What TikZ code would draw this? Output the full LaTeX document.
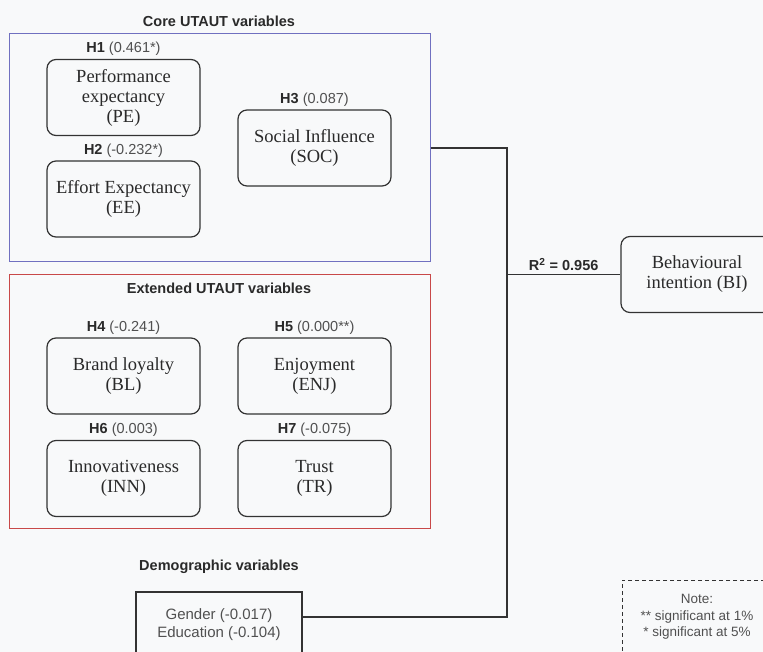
\documentclass[tikz,border=0pt]{standalone}
\usepackage{fontspec}
\setmainfont{Liberation Serif}
\setsansfont{Liberation Sans}
\usepackage{tikz}
\definecolor{bg}{HTML}{F8F9FA}
\definecolor{edge}{HTML}{333333}
\definecolor{txt}{HTML}{2A2A2A}
\definecolor{val}{HTML}{505050}
\definecolor{corec}{HTML}{7070C0}
\definecolor{extc}{HTML}{C84848}
\tikzset{
  var/.style={draw=edge,line width=1.2pt,rounded corners=9pt,minimum width=153pt,minimum height=76pt,inner sep=2pt,align=center,text=txt,font=\fontsize{18.5}{20}\selectfont},
  hyp/.style={text=val,inner sep=3pt,font=\sffamily\fontsize{14.5}{17}\selectfont},
  grp/.style={text=txt,font=\sffamily\bfseries\fontsize{14.5}{17}\selectfont},
  frame/.style={line width=1pt,minimum width=421pt},
  link/.style={draw=edge,line width=1.2pt}
}
\begin{document}
\begin{tikzpicture}[x=1pt,y=-1pt]
\fill[bg] (0,0) rectangle (763,652);
\useasboundingbox (0,0) rectangle (763,652);
\clip (0,0) rectangle (763,652);
\node[grp] (coret) at (219,21) {Core UTAUT variables};
\node[frame,draw=corec,minimum height=228pt] (core) at (219.5,148) {};
\node[frame,draw=extc,minimum height=253pt] (ext) at (219.5,401.5) {};
\node[grp] (extt) at (219,288) {Extended UTAUT variables};
\foreach \nm/\x/\y/\h/\v/\t in {pe/123.5/97.5/H1/0.461*/{Performance\\expectancy\\(PE)},
  ee/123.5/199/H2/-0.232*/{Effort Expectancy\\(EE)},
  soc/314.5/148/H3/0.087/{Social Influence\\(SOC)},
  bl/123.5/376/H4/-0.241/{Brand loyalty\\(BL)},
  enj/314.5/376/H5/0.000**/{Enjoyment\\(ENJ)},
  inn/123.5/478.5/H6/0.003/{Innovativeness\\(INN)},
  tr/314.5/478.5/H7/-0.075/{Trust\\(TR)}}
  \node[var,label={[hyp,name=\nm-h]above:{\textbf{\color{txt}\h} (\v)}}] (\nm) at (\x,\y) {\t};
\node[var,minimum width=152pt] (bi) at (697,274.5) {Behavioural\\intention (BI)};
\node[grp] (demot) at (219,567) {Demographic variables};
\node[draw=edge,line width=1.2pt,minimum width=166pt,minimum height=66pt,align=center,text=val,font=\sffamily\fontsize{15}{18}\selectfont] (demo) at (219,625) {Gender (-0.017)\\Education (-0.104)};
\node[draw=edge,line width=1pt,dash pattern=on 4pt off 3pt,minimum width=150pt,minimum height=74pt,align=center,text=val,font=\sffamily\fontsize{13.5}{16.5}\selectfont] (note) at (697,617) {Note:\\** significant at 1\%\\* significant at 5\%};
\coordinate (junc) at (507,274.5);
\draw[link] (core.east) -| (junc) -- node[grp,above=0pt] (r2) {R\textsuperscript{2} = 0.956} (bi.west);
\draw[link] (junc) |- ([yshift=8pt]demo.east);
\end{tikzpicture}
\end{document}
